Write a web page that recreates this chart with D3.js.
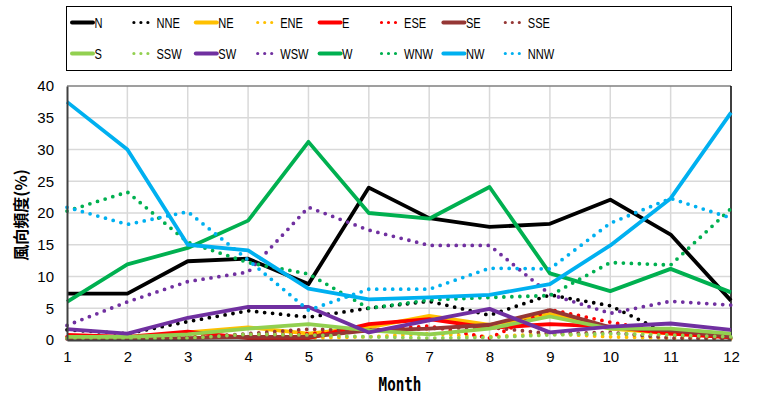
<!DOCTYPE html>
<html>
<head>
<meta charset="utf-8">
<script src="https://cdn.jsdelivr.net/npm/d3@7"></script>
<style>
  html, body { margin: 0; padding: 0; background: #fff; }
  svg { display: block; }
</style>
</head>
<body>
<svg id="chart" width="760" height="401"></svg>
<script>
const months = [1, 2, 3, 4, 5, 6, 7, 8, 9, 10, 11, 12];
const yTicks = [0, 5, 10, 15, 20, 25, 30, 35, 40];
const seriesNames = ["N", "NNE", "NE", "ENE", "E", "ESE", "SE", "SSE", "S", "SSW", "SW", "WSW", "W", "WNW", "NW", "NNW"];

const N   = [7.3, 7.3, 12.4, 12.8, 8.8, 24.0, 19.2, 17.8, 18.3, 22.1, 16.6, 6.2];
const NNE = [1.6, 1.0, 2.9, 4.6, 3.6, 5.0, 6.1, 3.9, 7.1, 5.4, 0.8, 0.3];
const NE  = [0.5, 0.3, 1.2, 2.0, 1.0, 2.0, 3.8, 2.4, 4.1, 1.8, 1.0, 0.5];
const ENE = [0.3, 0.2, 0.3, 0.6, 0.3, 0.5, 1.0, 0.5, 1.0, 0.5, 0.3, 0.2];
const E   = [0.8, 0.5, 1.3, 0.3, 0.3, 2.5, 3.3, 1.9, 2.5, 2.1, 1.0, 0.4];
const ESE = [0.5, 0.3, 0.5, 0.8, 1.0, 1.5, 2.2, 0.3, 4.8, 2.8, 1.2, 0.3];
const SE  = [0.3, 0.2, 0.3, 0.5, 0.5, 1.5, 1.8, 2.4, 4.7, 2.0, 1.5, 0.5];
const SSE = [0.2, 0.2, 0.3, 1.0, 1.7, 1.5, 1.8, 2.0, 1.0, 1.2, 0.3, 0.2];
const S   = [0.5, 0.5, 0.9, 1.8, 2.5, 1.5, 0.9, 1.8, 3.7, 1.8, 1.8, 1.0];
const SSW = [0.3, 0.2, 0.3, 0.9, 0.8, 0.5, 0.3, 0.4, 0.8, 1.0, 0.8, 0.5];
const SW  = [1.7, 1.0, 3.5, 5.2, 5.2, 1.2, 3.1, 4.9, 1.2, 2.1, 2.6, 1.6];
const WSW = [2.3, 6.0, 9.2, 10.7, 20.9, 17.3, 14.9, 14.9, 7.2, 4.2, 6.1, 5.5];
const W   = [6.0, 11.9, 14.5, 18.8, 31.2, 20.0, 19.1, 24.1, 10.5, 7.7, 11.2, 7.5];
const WNW = [20.3, 23.3, 15.4, 12.2, 10.4, 5.0, 6.3, 6.7, 7.0, 12.2, 11.8, 20.7];
const NW  = [37.5, 30.0, 15.0, 14.1, 8.1, 6.4, 6.7, 7.1, 8.8, 14.9, 22.3, 35.8];
const NNW = [20.9, 18.2, 20.2, 12.6, 4.7, 8.0, 8.0, 11.3, 11.2, 18.4, 22.3, 19.2];

const seriesValues = [N, NNE, NE, ENE, E, ESE, SE, SSE, S, SSW, SW, WSW, W, WNW, NW, NNW];
const seriesColors = ["#000000", "#000000", "#FFC000", "#FFC000", "#FF0000", "#FF0000",
  "#953735", "#953735", "#92D050", "#92D050", "#7030A0", "#7030A0",
  "#00B050", "#00B050", "#00B0F0", "#00B0F0"];
const seriesDotted = seriesNames.map((d, i) => i % 2 === 1);

const series = seriesNames.map((name, i) => ({
  name, color: seriesColors[i], dotted: seriesDotted[i],
  values: months.map((m, j) => ({ m, v: seriesValues[i][j] }))
}));

const svg = d3.select("#chart");
const pL = 67, pR = 731, pT = 86, pB = 340;
const x = d3.scaleLinear().domain([1, 12]).range([pL, pR]);
const y = d3.scaleLinear().domain([0, 40]).range([pB, pT]);

// gridlines
const grid = svg.append("g");
grid.selectAll(".hg").data(yTicks.filter(t => t > 0 && t < 40)).join("line")
  .attr("x1", pL).attr("x2", pR)
  .attr("y1", d => y(d)).attr("y2", d => y(d))
  .attr("stroke", "#D9D9D9").attr("stroke-width", 1.5);
grid.selectAll(".vg").data(months.filter(m => m > 1 && m < 12)).join("line")
  .attr("y1", pT).attr("y2", pB)
  .attr("x1", d => x(d)).attr("x2", d => x(d))
  .attr("stroke", "#D9D9D9").attr("stroke-width", 1.5);

// border top/right
svg.append("line").attr("x1", pL).attr("x2", pR).attr("y1", pT).attr("y2", pT)
  .attr("stroke", "#7F7F7F").attr("stroke-width", 1.5);
svg.append("line").attr("x1", pR).attr("x2", pR).attr("y1", pT).attr("y2", pB)
  .attr("stroke", "#000000").attr("stroke-width", 1.5);

// lines
const line = d3.line().x(d => x(d.m)).y(d => y(d.v));
const lines = svg.append("g");
series.forEach(s => {
  lines.append("path")
    .attr("d", line(s.values))
    .attr("fill", "none")
    .attr("stroke", s.color)
    .attr("stroke-width", 3.8)
    .attr("stroke-linejoin", "round")
    .attr("stroke-linecap", s.dotted ? "round" : "butt")
    .attr("stroke-dasharray", s.dotted ? "0 8" : null);
});

// axes
const xAxis = d3.axisBottom(x).tickValues(months).tickSize(0).tickPadding(11).tickFormat(d3.format("d"));
const gx = svg.append("g").attr("transform", `translate(0,${pB})`).call(xAxis);
gx.select(".domain").attr("stroke", "#404040").attr("stroke-width", 2);
gx.selectAll("text").attr("font-family", "Liberation Sans, Arial, sans-serif").attr("font-size", 15).attr("fill", "#000");

const yAxis = d3.axisLeft(y).tickValues(yTicks).tickSize(0).tickPadding(13);
const gy = svg.append("g").attr("transform", `translate(${pL},0)`).call(yAxis);
gy.select(".domain").attr("stroke", "#404040").attr("stroke-width", 2);
gy.selectAll("text").attr("font-family", "Liberation Sans, Arial, sans-serif").attr("font-size", 15).attr("fill", "#000");

// axis titles
svg.append("text").attr("transform", "translate(400,391) scale(0.75,1)").attr("text-anchor", "middle")
  .attr("font-family", "DejaVu Sans Mono, monospace").attr("font-weight", "bold")
  .attr("font-size", 19).text("Month");
svg.append("text").attr("transform", "translate(27,215) rotate(-90)").attr("text-anchor", "middle")
  .attr("font-family", "Noto Sans CJK JP, sans-serif").attr("font-weight", "bold")
  .attr("font-size", 16).text("風向頻度(%)");

// legend
const lg = svg.append("g");
lg.append("rect").attr("x", 66.5).attr("y", 6.5).attr("width", 665).attr("height", 64)
  .attr("fill", "#fff").attr("stroke", "#000").attr("stroke-width", 1);
series.forEach((s, i) => {
  const col = i % 8, row = Math.floor(i / 8);
  const lx = 72 + col * 61.9, ly = 22.5 + row * 31;
  lg.append("line").attr("x1", lx).attr("x2", lx + 21).attr("y1", ly).attr("y2", ly)
    .attr("stroke", s.color).attr("stroke-width", s.dotted ? 3.2 : 4)
    .attr("stroke-linecap", "round")
    .attr("stroke-dasharray", s.dotted ? "0 7" : null);
  lg.append("text").attr("transform", `translate(${lx + 22.5},${ly}) scale(0.74,1)`).attr("dy", "0.36em")
    .attr("font-family", "Liberation Sans, Arial, sans-serif").attr("font-size", 15)
    .text(s.name);
});
</script>
</body>
</html>
